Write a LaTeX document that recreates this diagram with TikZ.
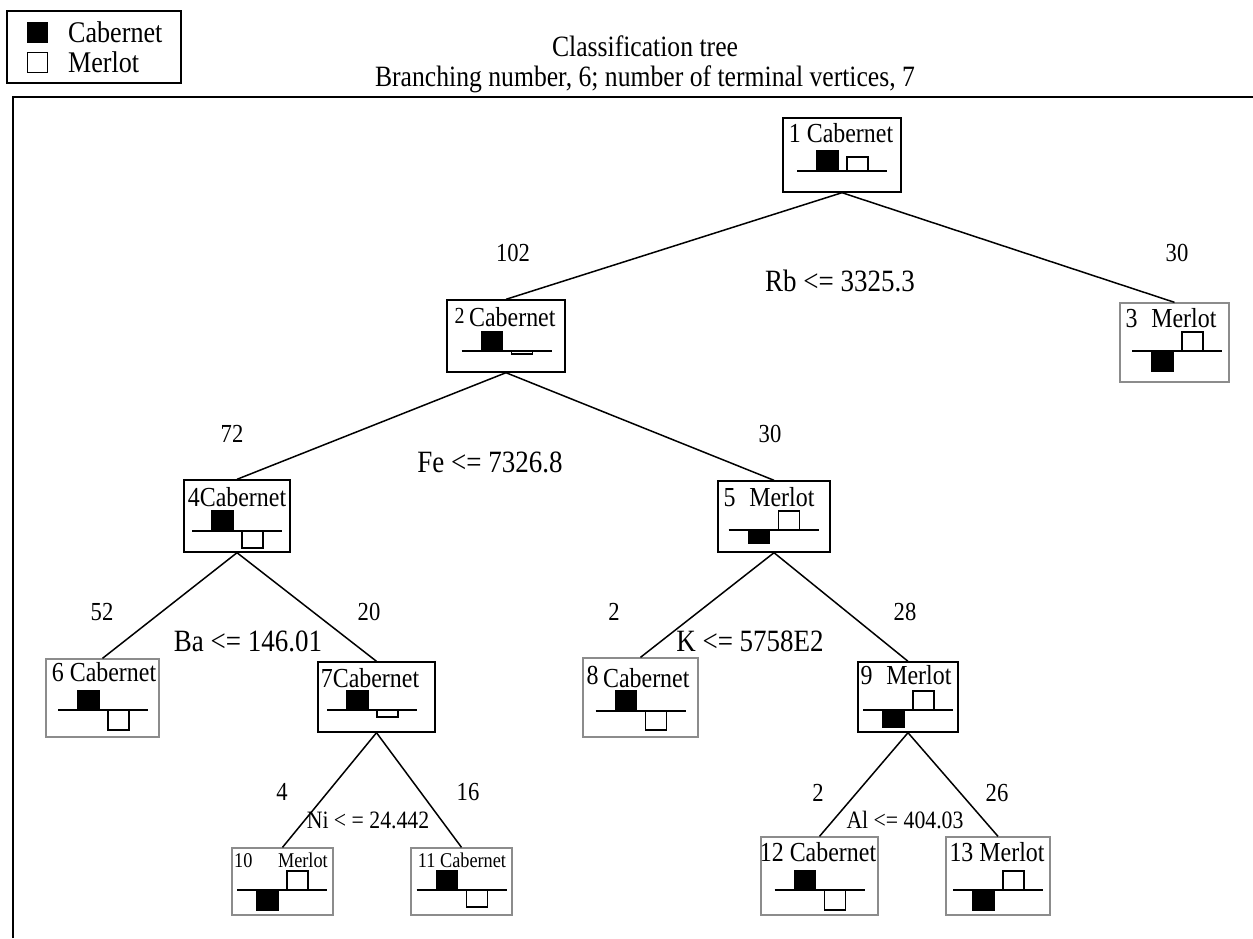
\documentclass[tikz,border=0pt]{standalone}
\usepackage{fontspec}
\setmainfont{Liberation Serif}[FakeStretch=0.87]
\usetikzlibrary{positioning}

% bars of one vertex: line centre x, line y, black height, white height (>0 above the line)
\newcommand{\classbars}[4]{%
  \draw[baseline] (#1-45,#2) -- (#1+45,#2);
  \filldraw[baseline, fill=black] (#1-25,#2) rectangle (#1-4,{#2-(#3)});
  \filldraw[baseline, fill=white] (#1+5,#2) rectangle (#1+26,{#2-(#4)});
}

\tikzset{
  inner/.style={draw=black, line width=1.4pt, inner sep=0pt},
  leaf/.style={draw=black!45, line width=1.3pt, inner sep=0pt},
  baseline/.style={line width=1.2pt},
  branch/.style={line width=1.5pt},
  vname/.style={font=\fontsize{27.5}{30}\selectfont, inner sep=0pt},
  small/.style={font=\fontsize{21}{24}\selectfont, inner sep=0pt},
  count/.style={font=\fontsize{26}{30}\selectfont, inner sep=0pt},
  rule/.style={font=\fontsize{31}{35}\selectfont, inner sep=0pt},
  smallrule/.style={font=\fontsize{25}{29}\selectfont, inner sep=0pt},
  heading/.style={font=\fontsize{29.5}{34}\selectfont, inner sep=0pt},
}

\begin{document}
\begin{tikzpicture}[x=1pt, y=-1pt]
\useasboundingbox (0,0) rectangle (1253,938);

% legend
\node[draw, line width=1.2pt, minimum width=174, minimum height=72] (legend) at (94,47) {};
\node[fill=black, draw, minimum size=20, inner sep=0pt] (sqc) at (37.5,32) {};
\node[draw, fill=white, line width=1pt, minimum size=20, inner sep=0pt] (sqm) at (37.5,62) {};
\node[font=\fontsize{30}{34}\selectfont, anchor=west, inner sep=0pt] (lc) at (68,32) {Cabernet};
\node[font=\fontsize{30}{34}\selectfont, anchor=west, inner sep=0pt] (lm) at (68,62) {Merlot};

% title
\node[heading, anchor=base] (title) at (645,56) {Classification tree};
\node[heading, anchor=base] (subtitle) at (645,86) {Branching number, 6; number of terminal vertices, 7};

% frame
\draw[line width=1.3pt] (13,938) -- (13,97) -- (1253,97);

% vertices
\foreach \n/\cx/\cy/\w/\h/\kind in {1/842/155/118/74/inner, 2/506/336/118/72/inner,
  3/1174.5/342.5/109/79/leaf, 4/237/516/106/72/inner, 5/774/516.5/112/71/inner,
  6/102.5/698/113/78/leaf, 7/376.5/697/117/70/inner, 8/640.5/697.5/115/79/leaf,
  9/908/697/100/70/inner, 10/282.5/881.5/101/67/leaf, 11/461.5/881.5/101/67/leaf,
  12/819.5/876/117/78/leaf, 13/998/876/104/78/leaf}
  \node[\kind, minimum width=\w, minimum height=\h] (b\n) at (\cx,\cy) {};

% vertex names
\node[vname] (t1) at (841,133) {1 Cabernet};
\node[vname] (t2) at (505,317) {\raisebox{3pt}{\fontsize{23}{26}\selectfont 2}\,Cabernet};
\node[vname] (t3) at (1171,318) {3\enspace Merlot};
\node[vname] (t4) at (237,497) {4Cabernet};
\node[vname] (t5) at (769,497) {5\enspace Merlot};
\node[vname] (t6) at (104,672) {6 Cabernet};
\node[vname] (t7) at (370,678) {7Cabernet};
\node[vname] (t8) at (638,677) {\raisebox{3pt}{8}\,Cabernet};
\node[vname] (t9) at (906,675) {9\enspace Merlot};
\node[small] (t10) at (281,860) {10\quad\ Merlot};
\node[small] (t11) at (462,860) {11 Cabernet};
\node[vname] (t12) at (818,852) {12 Cabernet};
\node[vname] (t13) at (997,852) {13 Merlot};

% class bars
\foreach \lx/\ly/\bh/\wh in {842/171/20/14, 506.5/351/19/-3, 1177/351/-20/19,
  237/531/20/-17, 773.5/530/-13/19, 103/710/19/-20, 372/710/19/-7,
  640.5/711/20/-19, 908/710/-17/19, 282/890/-20/19, 461.5/890/19/-17,
  819.5/890/19/-20, 998/890/-20/19}
  {\classbars{\lx}{\ly}{\bh}{\wh}}

% branches
\foreach \a/\b in {1/2, 1/3, 2/4, 2/5, 4/6, 4/7, 5/8, 5/9, 7/10, 7/11, 9/12, 9/13}
  \draw[branch] (b\a.south) -- (b\b.north);

% counts and split rules
\node[count] (n2) at (513,253) {102};
\node[count] (n3) at (1177,253) {30};
\node[rule] (r1) at (840,281) {Rb <= 3325.3};
\node[count] (n4) at (232,434) {72};
\node[count] (n5) at (770,434) {30};
\node[rule] (r2) at (490,462) {Fe <= 7326.8};
\node[count] (n6) at (102,612) {52};
\node[count] (n7) at (369,612) {20};
\node[rule] (r4) at (248,641) {Ba <= 146.01};
\node[count] (n8) at (614,612) {2};
\node[count] (n9) at (905,612) {28};
\node[rule] (r5) at (750,641) {K <= 5758E2};
\node[count] (n10) at (282,792) {4};
\node[count] (n11) at (468,792) {16};
\node[smallrule] (r7) at (368,820) {Ni < = 24.442};
\node[count] (n12) at (818,793) {2};
\node[count] (n13) at (997,793) {26};
\node[smallrule] (r9) at (905,820) {Al <= 404.03};

\end{tikzpicture}
\end{document}
